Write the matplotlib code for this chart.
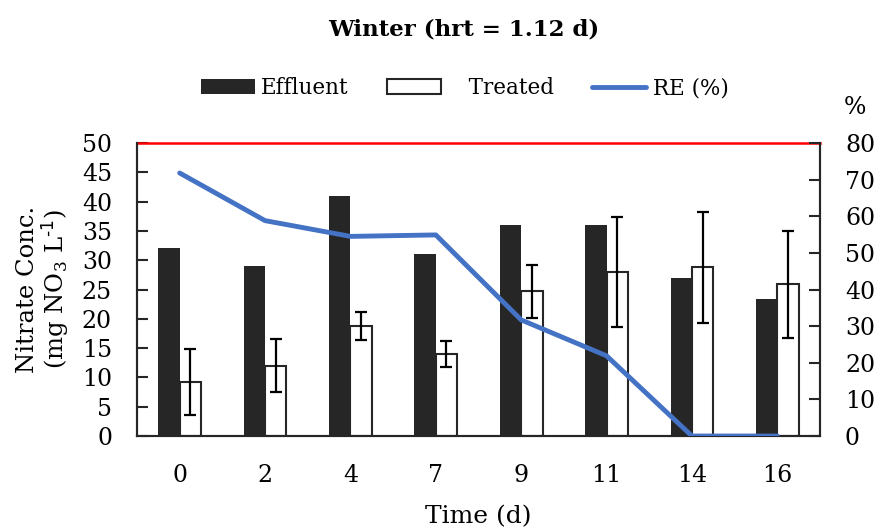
import matplotlib.pyplot as plt
import numpy as np

plt.rcParams['font.family'] = ['DejaVu Serif']
plt.rcParams['mathtext.default'] = 'regular'

# data
days = ['0', '2', '4', '7', '9', '11', '14', '16']
effluent = [32, 29, 41, 31, 36, 36, 27, 23.3]
treated = [9.2, 12.0, 18.7, 14.0, 24.7, 28.0, 28.8, 25.9]
treated_err = [5.6, 4.5, 2.4, 2.2, 4.5, 9.4, 9.5, 9.1]
removal = [71.8, 58.8, 54.5, 54.9, 31.7, 21.9, 0, 0]
limit = 50

x = np.arange(len(days))
w = 0.25

fig = plt.figure(figsize=(8.8, 5.28), dpi=100)
ax = fig.add_axes([0.1557, 0.1742, 0.7761, 0.555])
ax2 = ax.twinx()

b1 = ax.bar(x - w/2, effluent, w, color='#262626', label='Effluent', zorder=2)
b2 = ax.bar(x + w/2, treated, w, color='white', edgecolor='#262626', linewidth=1.5,
            label='Treated', zorder=2)
ax.errorbar(x + w/2, treated, yerr=treated_err, fmt='none', ecolor='black',
            elinewidth=1.6, capsize=4, capthick=1.6, zorder=3)
ax.axhline(limit, color='red', lw=1.8, zorder=4, clip_on=False)

l1, = ax2.plot(x, removal, color='#4472C4', lw=3.5, solid_capstyle='round',
               label='RE (%)', zorder=5)

ax.set_xlim(-0.5, len(days) - 0.5)
ax.set_ylim(0, 50)
ax2.set_ylim(0, 80)
ax.set_yticks(np.arange(0, 51, 5))
ax2.set_yticks(np.arange(0, 81, 10))
ax.set_xticks(x)
ax.set_xticklabels(days)

for a in (ax, ax2):
    a.spines['top'].set_visible(False)
    for s in ('left', 'right', 'bottom'):
        a.spines[s].set_color('#262626')
        a.spines[s].set_linewidth(1.5)
ax.tick_params(axis='y', direction='in', length=8, width=1.5, labelsize=17, color='#262626', pad=18)
ax2.tick_params(axis='y', direction='in', length=8, width=1.5, labelsize=17, color='#262626', pad=18)
ax.tick_params(axis='x', length=0, labelsize=17, pad=20)

ax.set_xlabel('Time (d)', fontsize=18, labelpad=13)
ax.set_ylabel('Nitrate Conc.\n(mg NO$_3$ L$^{\\text{-1}}$)', fontsize=17.5, labelpad=8, linespacing=1.0)
fig.text(0.972, 0.797, '%', fontsize=17, ha='center', va='center')

fig.suptitle('Winter (hrt = 1.12 d)', fontsize=16.5, fontweight='bold', x=0.527, y=0.965)

fig.legend([b1, b2, l1], ['Effluent', '   Treated', 'RE (%)'], loc='center',
           bbox_to_anchor=(0.528, 0.833), ncol=3, frameon=False, fontsize=15.5,
           handlelength=2.5, handleheight=0.7, handletextpad=0.3, columnspacing=1.8)

fig.savefig('out.png', dpi=100)
